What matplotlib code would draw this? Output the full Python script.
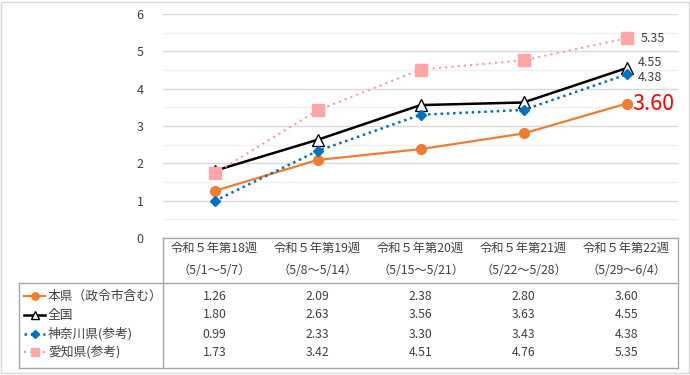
import matplotlib
matplotlib.use("Agg")
import matplotlib.pyplot as plt
from matplotlib.lines import Line2D
from matplotlib.patches import Rectangle

plt.rcParams['font.family'] = ['Noto Sans CJK JP', 'DejaVu Sans']

# データ
weeks = ['令和５年第18週', '令和５年第19週', '令和５年第20週', '令和５年第21週', '令和５年第22週']
periods = ['（5/1～5/7）', '（5/8～5/14）', '（5/15～5/21）', '（5/22～5/28）', '（5/29～6/4）']
names = ['本県（政令市含む）', '全国', '神奈川県(参考)', '愛知県(参考)']
honken = [1.26, 2.09, 2.38, 2.80, 3.60]
zenkoku = [1.80, 2.63, 3.56, 3.63, 4.55]
kanagawa = [0.99, 2.33, 3.30, 3.43, 4.38]
aichi = [1.73, 3.42, 4.51, 4.76, 5.35]
series = [honken, zenkoku, kanagawa, aichi]

styles = [
    dict(color='#ED7D31', lw=1.6, ls='-', marker='o', ms=7, mfc='#ED7D31', mec='#ED7D31'),
    dict(color='black', lw=1.8, ls='-', marker='^', ms=8, mfc='white', mec='black'),
    dict(color='#0070C0', lw=1.8, ls=(0, (1, 1.5)), marker='D', ms=5.5, mfc='#0070C0', mec='#0070C0'),
    dict(color='#FF9999', lw=1.5, ls=(0, (1, 2)), marker='s', ms=8, mfc='#FFA7A7', mec='#FFA7A7'),
]

W, H = 690, 375
fig = plt.figure(figsize=(6.9, 3.75), dpi=100)

def fx(px):
    return px / W

def fy(py):
    return 1 - py / H

# 外枠
fig.add_artist(Rectangle((fx(1), fy(373)), fx(688), 371 / H, transform=fig.transFigure,
                         fill=False, ec='#d9d9d9', lw=1))

x0, x1, ytop, ybot = 163, 678, 14, 238
ax = fig.add_axes([fx(x0), fy(ybot), fx(x1 - x0), (ybot - ytop) / H])
ax.set_xlim(-0.5, 4.5)
ax.set_ylim(0, 6)
for v in range(0, 13):
    y = v * 0.5
    if v % 2 == 0:
        ax.axhline(y, color='#d9d9d9', lw=1, zorder=0)
    else:
        ax.axhline(y, color='#f0f0f0', lw=1, zorder=0)
ax.set_xticks([])
ax.set_yticks(range(0, 7))
ax.tick_params(axis='y', length=0, pad=14, labelsize=9, labelcolor='#404040')
for s in ax.spines.values():
    s.set_visible(False)
ax.patch.set_alpha(0)

xs = list(range(len(weeks)))
for vals, st in zip(series, styles):
    ax.plot(xs, vals, color=st['color'], lw=st['lw'], ls=st['ls'], marker=st['marker'],
            ms=st['ms'], mfc=st['mfc'], mec=st['mec'], zorder=3)

# データラベル
ax.annotate(f'{honken[-1]:.2f}', (4, honken[-1]), xytext=(4, 0), textcoords='offset points',
            color='#FF0000', fontsize=15.5, va='center', ha='left')
ax.annotate(f'{zenkoku[-1]:.2f}', (4, zenkoku[-1]), xytext=(8, 4), textcoords='offset points',
            color='#404040', fontsize=9, va='center', ha='left')
ax.annotate(f'{kanagawa[-1]:.2f}', (4, kanagawa[-1]), xytext=(8, -2), textcoords='offset points',
            color='#404040', fontsize=9, va='center', ha='left')
ax.annotate(f'{aichi[-1]:.2f}', (4, aichi[-1]), xytext=(10, 0), textcoords='offset points',
            color='#404040', fontsize=9, va='center', ha='left')

# 表
gc = '#a6a6a6'
tl = 19
hy = 283
by = 368

def hline(px0, px1, py):
    fig.add_artist(Line2D([fx(px0), fx(px1)], [fy(py), fy(py)], color=gc, lw=1,
                          transform=fig.transFigure))

def vline(px, py0, py1):
    fig.add_artist(Line2D([fx(px), fx(px)], [fy(py0), fy(py1)], color=gc, lw=1,
                          transform=fig.transFigure))

hline(x0, x1, ybot)
hline(tl, x1, hy)
hline(tl, x1, by)
vline(tl, hy, by)
vline(x0, ybot, by)
vline(x1, ybot, by)

colw = (x1 - x0) / len(weeks)
for i, (w, p) in enumerate(zip(weeks, periods)):
    cx = x0 + colw * (i + 0.5)
    fig.text(fx(cx), fy(248), w, ha='center', va='center', fontsize=8.8, color='#404040')
    fig.text(fx(cx), fy(271), p, ha='center', va='center', fontsize=8.8, color='#404040')

row_y = [296, 315, 334, 352]
for name, vals, st, ry in zip(names, series, styles, row_y):
    fig.add_artist(Line2D([fx(24), fx(45)], [fy(ry), fy(ry)], color=st['color'], lw=st['lw'],
                          ls=st['ls'], transform=fig.transFigure))
    fig.add_artist(Line2D([fx(34.5)], [fy(ry)], marker=st['marker'], ms=st['ms'] * 0.75,
                          mfc=st['mfc'], mec=st['mec'], ls='none', transform=fig.transFigure))
    fig.text(fx(48), fy(ry), name, ha='left', va='center', fontsize=9.2, color='#404040')
    for i, v in enumerate(vals):
        cx = x0 + colw * (i + 0.5)
        fig.text(fx(cx), fy(ry), f'{v:.2f}', ha='center', va='center', fontsize=8.8, color='#404040')

fig.savefig('out.png', dpi=100)
